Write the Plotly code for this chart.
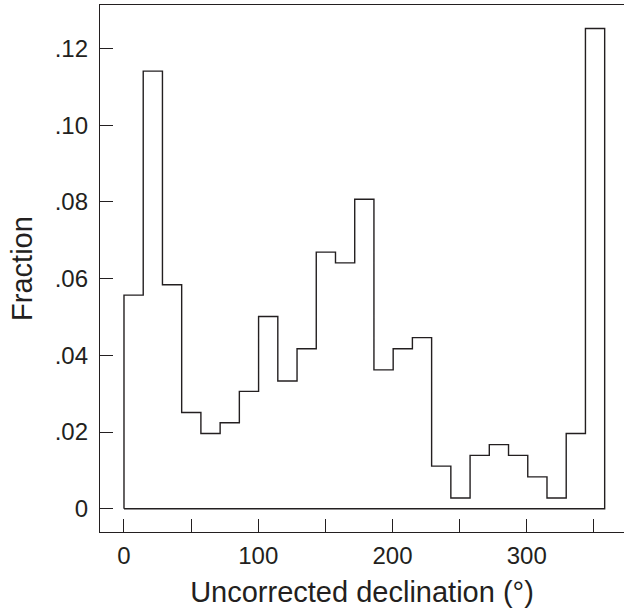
import plotly.graph_objects as go

# Histogram of uncorrected declination: 25 equal-width bins starting at 0°
bin_start = 0.0
bin_width = 14.32
fraction = [0.0557, 0.1141, 0.0584, 0.0251, 0.0196, 0.0224, 0.0306, 0.0501,
            0.0333, 0.0417, 0.0669, 0.0641, 0.0807, 0.0362, 0.0417, 0.0446,
            0.0111, 0.0028, 0.0139, 0.0167, 0.0139, 0.0083, 0.0028, 0.0196,
            0.1252]

x_tick_vals = [0, 50, 100, 150, 200, 250, 300, 350]
x_tick_text = ["0", "", "100", "", "200", "", "300", ""]
y_tick_vals = [0, 0.02, 0.04, 0.06, 0.08, 0.10, 0.12]
y_tick_text = ["0", ".02", ".04", ".06", ".08", ".10", ".12"]

# Build the closed step outline of the histogram
edges = [bin_start + i * bin_width for i in range(len(fraction) + 1)]
xs = [edges[0]]
ys = [0.0]
for i, f in enumerate(fraction):
    xs += [edges[i], edges[i + 1]]
    ys += [f, f]
xs += [edges[-1], edges[0]]
ys += [0.0, 0.0]

ink = "#231f20"
font_family = "Liberation Sans, Arial, Helvetica, sans-serif"

fig = go.Figure()
fig.add_trace(go.Scatter(
    x=xs, y=ys, mode="lines",
    line=dict(color=ink, width=1.4),
    hoverinfo="skip", showlegend=False,
))

fig.update_layout(
    width=624, height=613,
    margin=dict(l=100, r=0, t=5, b=81),
    plot_bgcolor="white", paper_bgcolor="white",
    font=dict(family=font_family, color=ink),
)
fig.update_xaxes(
    range=[-17.87, 372.4],
    showgrid=False, zeroline=False,
    showline=True, linecolor=ink, linewidth=1.4, mirror=True,
    ticks="inside", ticklen=13, tickwidth=1.2, tickcolor=ink,
    tickvals=x_tick_vals, ticktext=x_tick_text,
    tickfont=dict(size=24, color=ink), ticklabelstandoff=2,
    title=dict(text="Uncorrected declination (°)", font=dict(size=29, color=ink), standoff=13),
)
fig.update_yaxes(
    range=[-0.006076, 0.13134],
    showgrid=False, zeroline=False,
    showline=True, linecolor=ink, linewidth=1.4,
    ticks="inside", ticklen=13, tickwidth=1.2, tickcolor=ink,
    tickvals=y_tick_vals, ticktext=y_tick_text,
    tickfont=dict(size=24, color=ink), ticklabelstandoff=6,
    title=dict(text="Fraction", font=dict(size=29, color=ink), standoff=13),
)

fig.write_html("out.html")
